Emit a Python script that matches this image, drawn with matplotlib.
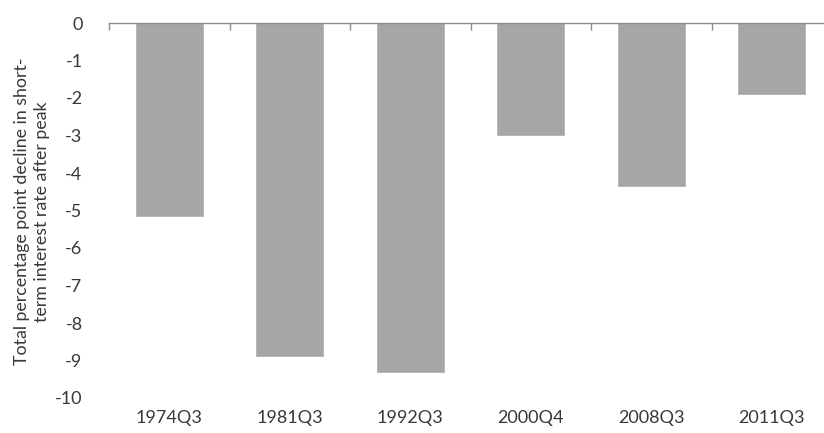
import numpy as np
import matplotlib
matplotlib.use('Agg')
import matplotlib.pyplot as plt
from matplotlib.ticker import FixedLocator

plt.rcParams['font.family'] = ['Lato', 'DejaVu Sans']

# 利率峰值后的累计降幅（百分点）
periods = ['1974Q3', '1981Q3', '1992Q3', '2000Q4', '2008Q3', '2011Q3']
declines = [-5.15, -8.88, -9.3, -2.98, -4.34, -1.89]
y_ticks = list(range(0, -11, -1))

text_color = '#383838'
bar_color = '#a6a6a6'
axis_color = '#8c8c8c'

fig = plt.figure(figsize=(8.24, 4.33), dpi=100)
ax = fig.add_axes([109 / 824, 35 / 433, 723 / 824, 375 / 433])

x = np.arange(len(periods))
ax.bar(x, declines, width=0.556, color=bar_color, edgecolor='#b4b4b4', linewidth=0.6)

ax.set_xlim(-0.5, len(periods) - 0.5)
ax.set_ylim(-10, 0)

# 零线在上方，类别分隔刻度朝下
for side in ['left', 'right', 'bottom']:
    ax.spines[side].set_visible(False)
ax.spines['top'].set_color(axis_color)
ax.spines['top'].set_linewidth(1.0)

ax.set_xticks(x)
ax.set_xticklabels(periods)
ax.xaxis.set_minor_locator(FixedLocator(np.arange(-0.5, len(periods), 1.0)))
ax.tick_params(axis='x', which='major', length=0, pad=9, labelsize=13, labelcolor=text_color)
ax.tick_params(axis='x', which='minor', bottom=False, top=True, direction='in',
               length=5, width=1.0, color=axis_color)

ax.set_yticks(y_ticks)
ax.set_yticklabels([str(v) for v in y_ticks])
ax.tick_params(axis='y', length=0, pad=19, labelsize=13, labelcolor=text_color)

fig.text(32 / 824, 0.512, 'Total percentage point decline in short-\nterm interest rate after peak',
         rotation=90, ha='center', va='center', fontsize=12.8, color=text_color,
         linespacing=1.25, multialignment='center')

fig.savefig('out.png', dpi=100)
